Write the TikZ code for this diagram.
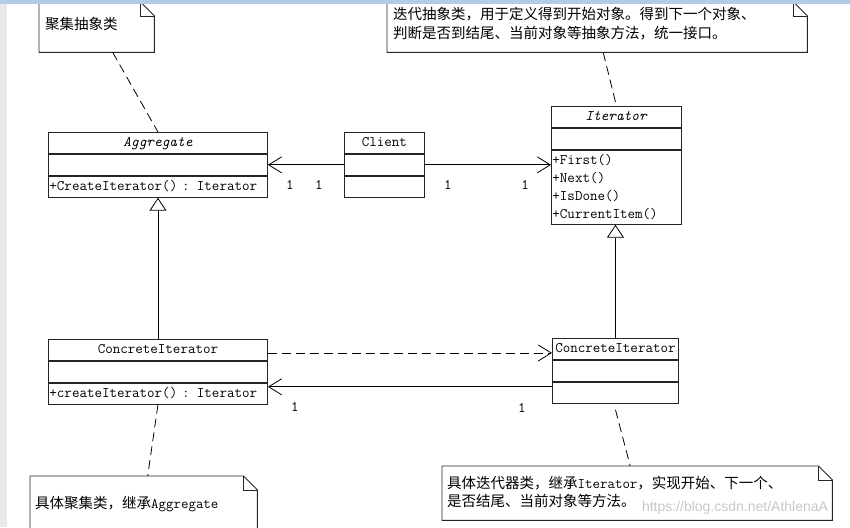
\documentclass[tikz,border=0pt]{standalone}
\usepackage{fontspec}
\newfontfamily\cjk{Noto Sans CJK SC}
\newfontfamily\wmfont{Liberation Sans}
\usetikzlibrary{positioning,calc,arrows.meta}
\newcommand\classfont{\ttfamily\fontsize{14.6}{18}\selectfont}
\newcommand\notefont{\cjk\fontsize{14.5}{18}\selectfont}
\definecolor{framegray}{RGB}{232,232,232}
\definecolor{frameblue}{RGB}{178,204,230}
\tikzset{
    umlpart/.style={rectangle,draw=black!85,line width=0.9pt,inner sep=0pt,font=\classfont},
    classhead/.style={umlpart,minimum height=21pt,text height=10pt,text depth=3pt,anchor=north west},
    classbox/.style={umlpart,minimum height=21pt,text height=10pt,text depth=3pt},
    classops/.style={classbox,align=left,inner xsep=1pt},
    classlist/.style={umlpart,align=left,inner xsep=1pt},
    note/.style={rectangle,inner sep=0pt,anchor=north west},
    noteline/.style={draw=black!85,line width=0.9pt},
    notetext/.style={font=\notefont,inner sep=0pt,align=left,anchor=base west,text width=#1},
    mult/.style={font=\classfont,inner sep=0pt},
    assoc/.style={-{Straight Barb[length=13pt,width=16pt]},line width=0.8pt},
    realize/.style={assoc,dash pattern=on 9pt off 5pt},
    inherit/.style={-{Triangle[open,length=13pt,width=17pt]},line width=0.8pt},
    notelink/.style={dash pattern=on 9pt off 5pt,line width=0.8pt},
}

\begin{document}
\begin{tikzpicture}[x=1pt,y=-1pt]
\useasboundingbox (0,0) rectangle (850,527);
% notes
\node[note,minimum width=115pt,minimum height=50pt] (n1) at (39,2) {};
\node[note,minimum width=420pt,minimum height=50pt] (n2) at (387,2) {};
\node[note,minimum width=227pt,minimum height=60pt] (n3) at (30,476) {};
\node[note,minimum width=390pt,minimum height=54pt] (n4) at (442,466) {};
\foreach \n in {n1,n2,n3,n4}{
  \draw[noteline] (\n.north west) -- ([xshift=-14pt]\n.north east) -- ([yshift=-14pt]\n.north east) -- (\n.south east) -- (\n.south west) -- cycle;
  \draw[noteline] ([xshift=-14pt]\n.north east) |- ([yshift=-14pt]\n.north east);
}
\node[notetext=105pt] (t1) at ($(n1.north west)+(6,28)$) {聚集抽象类};
\node[notetext=400pt] (t2) at ($(n2.north west)+(6,18)$) {迭代抽象类，用于定义得到开始对象。得到下一个对象、\\[1pt]判断是否到结尾、当前对象等抽象方法，统一接口。};
\node[notetext=215pt] (t3) at ($(n3.north west)+(5,32)$) {具体聚集类，继承{\ttfamily Aggregate}};
\node[notetext=375pt] (t4) at ($(n4.north west)+(5,22.5)$) {具体迭代器类，继承{\ttfamily Iterator}，实现开始、下一个、\\是否结尾、当前对象等方法。};

% classes
\node[classhead,minimum width=219pt] (agg) at (48,132) {\textit{Aggregate}};
\node[classbox,minimum width=219pt,below=0pt of agg] (agg-a) {};
\node[classops,text width=217pt,below=0pt of agg-a] (agg-m) {+CreateIterator() : Iterator};

\node[classhead,minimum width=80pt] (cli) at (344,132) {Client};
\node[classbox,minimum width=80pt,below=0pt of cli] (cli-a) {};
\node[classbox,minimum width=80pt,below=0pt of cli-a] (cli-m) {};

\node[classhead,minimum width=130pt] (iter) at (551,106) {\textit{Iterator}};
\node[classbox,minimum width=130pt,below=0pt of iter] (iter-a) {};
\node[classlist,text width=128pt,minimum height=74pt,below=0pt of iter-a] (iter-m) {+First()\\+Next()\\+IsDone()\\+CurrentItem()};

\node[classhead,minimum width=219pt] (cagg) at (48,339) {ConcreteIterator};
\node[classbox,minimum width=219pt,below=0pt of cagg] (cagg-a) {};
\node[classops,text width=217pt,below=0pt of cagg-a] (cagg-m) {+createIterator() : Iterator};

\node[classhead,minimum width=126pt] (citer) at (552,338) {ConcreteIterator};
\node[classbox,minimum width=126pt,below=0pt of citer] (citer-a) {};
\node[classbox,minimum width=126pt,below=0pt of citer-a] (citer-m) {};

% connectors
\draw[assoc] (cli-a.west) -- (cli-a.west -| agg-a.east);
\draw[assoc] (cli-a.east) -- (cli-a.east -| iter-m.west);
\draw[inherit] (cagg.north) -- (agg-m.south);
\draw[inherit] (citer.north) -- (citer.north |- iter-m.south);
\draw[realize] ([yshift=-3pt]cagg.east) -- ([yshift=-3pt]cagg.east -| citer.west);
\draw[assoc] ([yshift=-5pt]citer-m.north west) -- ([yshift=-5pt]citer-m.north west -| cagg-m.east);

\draw[notelink] ([xshift=16pt]n1.south) -- (agg.north);
\draw[notelink] ([xshift=6pt]n2.south) -- (iter.north);
\draw[notelink] (cagg-m.south) -- ([xshift=4pt]n3.north);
\draw[notelink] ([yshift=-6pt]citer-m.south) -- ([xshift=-7pt]n4.north);

\node[mult] (m1) at (290,185) {1};
\node[mult] (m2) at (319,185) {1};
\node[mult] (m3) at (448,185) {1};
\node[mult] (m4) at (525,185) {1};
\node[mult] (m5) at (295,407) {1};
\node[mult] (m6) at (522,408) {1};

\node[font=\wmfont\fontsize{14}{16}\selectfont,text=black!22,inner sep=0pt] (mark) at (735,508) {https://blog.csdn.net/AthlenaA};

% screen frame
\fill[framegray] (0,0) rectangle (7,527);
\fill[frameblue] (0,0) rectangle (850,4);
\end{tikzpicture}
\end{document}
